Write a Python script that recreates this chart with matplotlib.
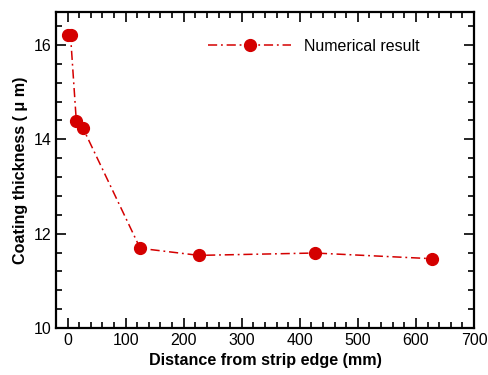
import numpy as np
import matplotlib.pyplot as plt
from matplotlib.ticker import MultipleLocator

plt.rcParams['font.family'] = ['Liberation Sans', 'DejaVu Sans']

# data
distance = [0, 5, 15, 26, 125, 226, 426, 627]
thickness = [16.21, 16.21, 14.39, 14.25, 11.69, 11.54, 11.59, 11.47]

fig = plt.figure(figsize=(4.89, 3.75), dpi=100)
ax = fig.add_axes([0.1145, 0.1253, 0.8547, 0.8427])

ax.plot(distance, thickness, color='#d40000', marker='o',
        markersize=8.5, linewidth=1.1, dashes=[6, 2.5, 1.2, 2.5],
        label='Numerical result')

ax.set_xlim(-20, 700)
ax.set_ylim(10, 16.7)
ax.xaxis.set_major_locator(MultipleLocator(100))
ax.xaxis.set_minor_locator(MultipleLocator(20))
ax.yaxis.set_major_locator(MultipleLocator(2))
ax.yaxis.set_minor_locator(MultipleLocator(0.4))
ax.tick_params(which='both', direction='in', top=True, right=True,
               labelsize=11.5, width=1.2)
ax.tick_params(which='major', length=7)
ax.tick_params(which='minor', length=4)
for s in ax.spines.values():
    s.set_linewidth(1.6)

ax.set_xlabel('Distance from strip edge (mm)', fontsize=11.6, fontweight='bold')
ax.set_ylabel('Coating thickness ( \u03bc m)', fontsize=11.6, fontweight='bold')

ax.legend(loc='upper left', bbox_to_anchor=(0.33, 0.96), frameon=False,
          fontsize=11.5, handlelength=5.2, handletextpad=0.8, numpoints=1)

fig.savefig('out.png', dpi=100)
